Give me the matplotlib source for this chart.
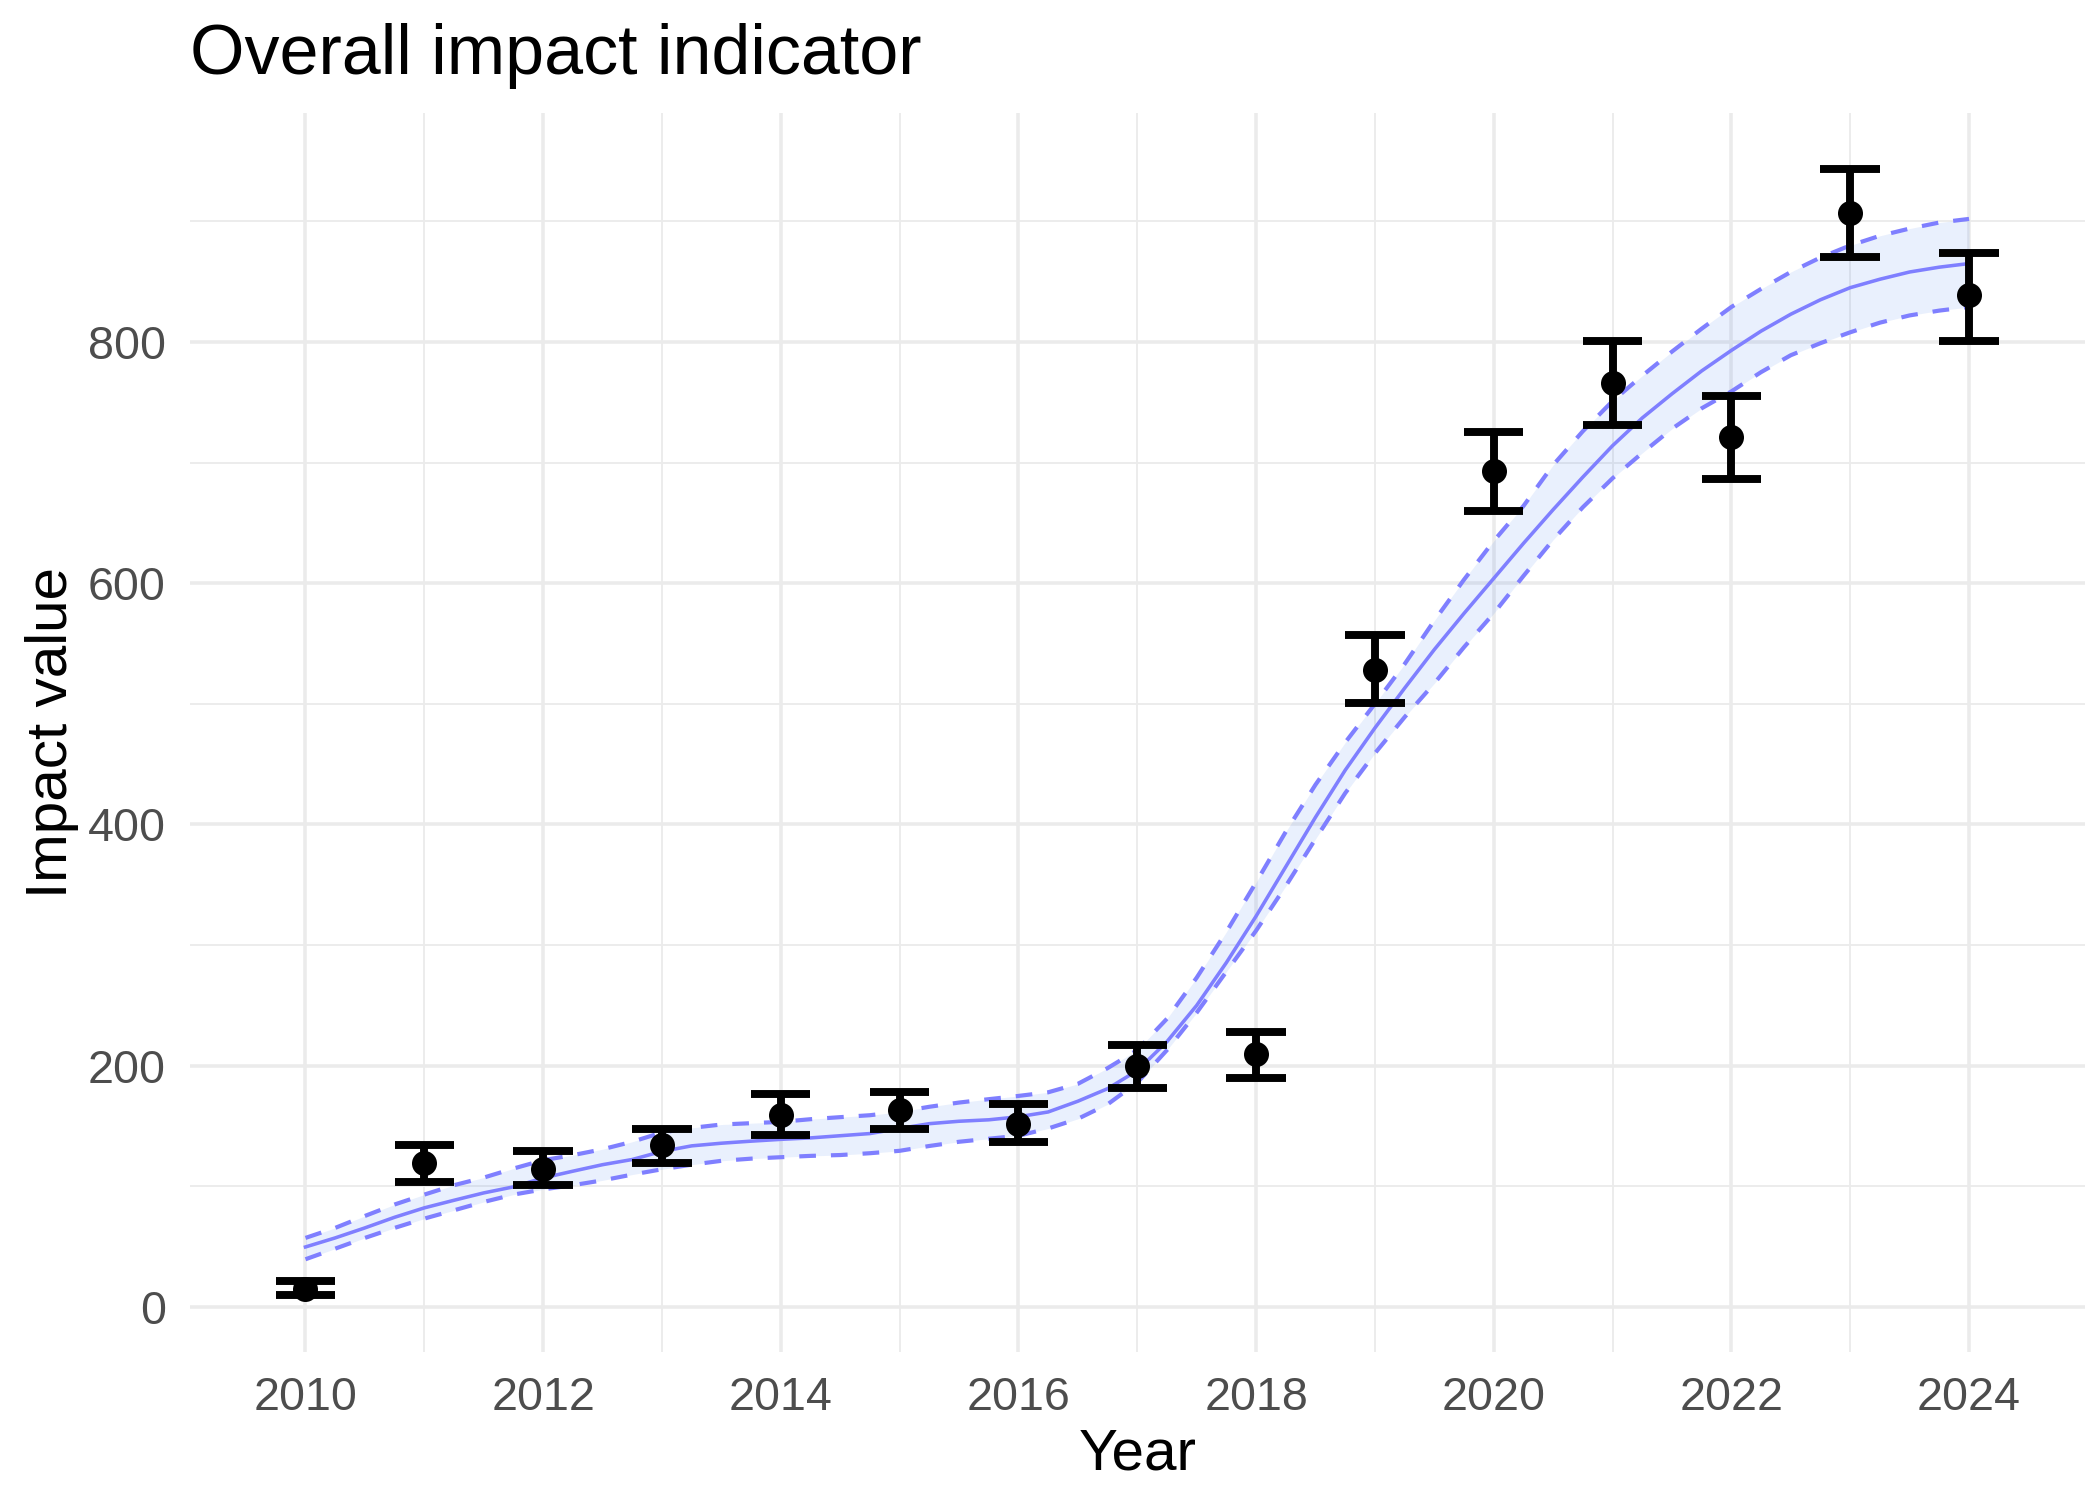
import numpy as np
import matplotlib
matplotlib.use("Agg")
import matplotlib.pyplot as plt
from matplotlib.ticker import MultipleLocator

plt.rcParams['font.family'] = ['Liberation Sans', 'DejaVu Sans']

# observed values with error bars
years = [2010, 2011, 2012, 2013, 2014, 2015, 2016, 2017,
         2018, 2019, 2020, 2021, 2022, 2023, 2024]
value = [15.2, 119.8, 114.8, 134.0, 159.6, 163.2, 152.0, 199.4,
         210.0, 528.0, 693.0, 766.0, 721.5, 906.5, 839.0]
upper = [21.3, 134.0, 129.0, 147.4, 176.5, 177.9, 168.0, 217.0,
         228.0, 556.7, 725.7, 800.6, 754.8, 943.4, 873.5]
lower = [9.7, 103.7, 101.5, 119.8, 142.5, 147.2, 136.4, 181.5,
         190.0, 500.6, 660.0, 731.3, 686.5, 870.4, 801.2]

fit_years = np.arange(2010, 2024.01, 0.25)
fit_mid = [49.8, 57.3, 65.6, 74.4, 82.2, 88.5, 94.6, 99.6,
           107.0, 112.6, 118.0, 122.3, 129.0, 133.6, 135.8, 137.5,
           139.0, 140.2, 142.0, 143.8, 148.0, 152.0, 154.0, 155.2,
           157.7, 161.7, 170.6, 181.0, 196.0, 220.0, 250.0, 285.5,
           324.0, 365.0, 406.0, 445.0, 480.0, 513.0, 545.0, 575.0,
           604.0, 633.0, 661.0, 688.0, 714.0, 737.0, 757.0, 776.0,
           793.0, 809.0, 823.0, 835.0, 845.0, 852.0, 858.0, 862.0,
           865.0]
fit_hi = [57.3, 65.6, 75.5, 85.0, 93.2, 101.0, 107.3, 114.8,
          121.7, 125.9, 130.8, 137.0, 144.7, 148.5, 151.3, 152.4,
          153.5, 155.7, 157.4, 159.0, 161.8, 166.0, 169.5, 172.3,
          175.0, 178.0, 185.0, 198.0, 213.0, 239.0, 273.0, 311.0,
          352.0, 394.0, 433.0, 468.0, 500.0, 533.0, 569.0, 603.0,
          635.0, 664.0, 698.0, 726.0, 751.0, 772.0, 792.0, 811.0,
          829.0, 844.0, 858.0, 870.0, 880.0, 888.0, 894.0, 899.0,
          902.0]
fit_lo = [39.6, 48.4, 57.3, 65.6, 73.3, 80.2, 87.1, 93.2,
          97.5, 101.0, 105.0, 109.8, 114.2, 118.0, 121.2, 123.0,
          124.2, 125.3, 126.0, 127.5, 129.5, 133.5, 137.0, 139.5,
          142.0, 148.0, 156.0, 168.0, 186.0, 213.0, 244.0, 278.0,
          312.0, 349.0, 388.0, 426.0, 459.0, 489.0, 517.0, 547.0,
          575.0, 606.0, 636.0, 663.0, 687.0, 708.0, 728.0, 745.0,
          759.0, 775.0, 789.0, 799.0, 808.0, 816.0, 822.0, 826.0,
          829.0]

line_col = '#7F7FFF'
grid_col = '#EBEBEB'
cap_half = 0.25

fig = plt.figure(figsize=(7, 5), dpi=300)
ax = fig.add_axes([0.0903, 0.0989, 0.9025, 0.826])

ax.fill_between(fit_years, fit_lo, fit_hi, color='#2F6FEF', alpha=0.1,
                lw=0, zorder=1)
ax.plot(fit_years, fit_hi, color=line_col, lw=1.0, dashes=(4, 3.6), zorder=2)
ax.plot(fit_years, fit_lo, color=line_col, lw=1.0, dashes=(4, 3.6), zorder=2)
ax.plot(fit_years, fit_mid, color=line_col, lw=0.85, zorder=2)

yr = np.array(years, dtype=float)
ax.vlines(yr, lower, upper, color='black', lw=1.9, zorder=3)
ax.hlines(upper, yr - cap_half, yr + cap_half, color='black', lw=1.9, zorder=3)
ax.hlines(lower, yr - cap_half, yr + cap_half, color='black', lw=1.9, zorder=3)
ax.plot(yr, value, 'o', color='black', ms=5, zorder=4)

# ggplot style limits: data range plus 5 %
x0, x1 = yr.min() - cap_half, yr.max() + cap_half
y0 = min(min(lower), min(fit_lo))
y1 = max(max(upper), max(fit_hi))
ax.set_xlim(x0 - 0.05 * (x1 - x0), x1 + 0.05 * (x1 - x0))
ax.set_ylim(y0 - 0.05 * (y1 - y0), y1 + 0.05 * (y1 - y0))

ax.xaxis.set_major_locator(MultipleLocator(2))
ax.xaxis.set_minor_locator(MultipleLocator(1))
ax.yaxis.set_major_locator(MultipleLocator(200))
ax.yaxis.set_minor_locator(MultipleLocator(100))
ax.grid(which='major', color=grid_col, lw=0.85, zorder=0)
ax.grid(which='minor', color=grid_col, lw=0.45, zorder=0)
ax.set_axisbelow(True)
for s in ax.spines.values():
    s.set_visible(False)
ax.tick_params(which='both', length=0, labelsize=11.2, labelcolor='#4D4D4D')
ax.tick_params(axis='x', pad=5.8)
ax.tick_params(axis='y', pad=5.7)

fig.text(0.0903, 0.9507, 'Overall impact indicator', fontsize=16.8,
         ha='left', va='baseline')
fig.text(0.5416, 0.02, 'Year', fontsize=14, ha='center', va='baseline')
fig.text(67 / 2100, 0.512, 'Impact value', fontsize=14, rotation=90,
         rotation_mode='anchor', ha='center', va='baseline')

fig.savefig('out.png', dpi=300, facecolor='white')
